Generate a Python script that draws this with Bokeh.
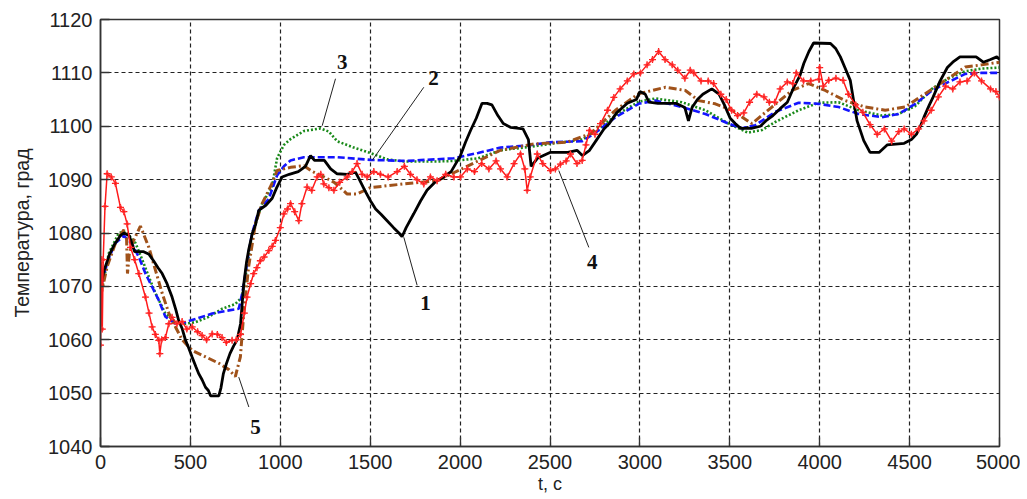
from bokeh.plotting import figure
from bokeh.models import FixedTicker, Range1d
from bokeh.core.properties import value
from bokeh.embed import file_html
from bokeh.resources import INLINE

# ---- data (t in s, temperature in grad) ----
x_ticks = [0, 500, 1000, 1500, 2000, 2500, 3000, 3500, 4000, 4500, 5000]
y_ticks = [1040, 1050, 1060, 1070, 1080, 1090, 1100, 1110, 1120]

# curve 1 (black, solid)
t1 = [0, 20, 50, 80, 110, 130, 160, 190, 240, 270, 295, 320, 343, 370, 398, 420, 435, 455, 472, 490,
      510, 530, 547, 565, 584, 600, 612, 658, 670, 683, 700, 720, 740, 760, 779, 797, 812, 825, 845, 862,
      880, 890, 920, 955, 980, 1010, 1050, 1100, 1140, 1168, 1190, 1245, 1280, 1316, 1372, 1418, 1440, 1470, 1502, 1530,
      1560, 1594, 1630, 1660, 1677, 1700, 1742, 1780, 1816, 1860, 1909, 1950, 2002, 2030, 2058, 2090, 2122, 2150, 2177, 2210,
      2240, 2280, 2350, 2380, 2395, 2430, 2500, 2600, 2650, 2680, 2720, 2760, 2800, 2830, 2870, 2930, 2980, 3000, 3030, 3050,
      3100, 3200, 3250, 3270, 3290, 3320, 3350, 3400, 3440, 3470, 3502, 3530, 3560, 3620, 3670, 3700, 3740, 3780, 3820, 3856,
      3890, 3912, 3940, 3966, 4060, 4090, 4115, 4140, 4170, 4190, 4208, 4245, 4280, 4330, 4375, 4470, 4510, 4540, 4560, 4580,
      4610, 4630, 4670, 4710, 4740, 4780, 4870, 4910, 4950, 4985, 5000]
T1 = [1070, 1073, 1076, 1078, 1079.5, 1080, 1079.5, 1076.5, 1076.5, 1076, 1074.8, 1073.5, 1072.4, 1070.5, 1068, 1065.5, 1063.6, 1062, 1060, 1058.5,
      1056.7, 1055, 1053.6, 1052.5, 1051.1, 1050.5, 1049.5, 1049.5, 1051, 1053.6, 1055.5, 1057.4, 1058.8, 1060, 1063, 1070.5, 1074.5, 1077, 1080, 1081.5,
      1084.2, 1084.5, 1085.2, 1086.5, 1088.5, 1090.5, 1091, 1091.5, 1092.5, 1094.5, 1093.6, 1093.6, 1092, 1091.1, 1091, 1091.4, 1090, 1088, 1086, 1084.5,
      1083.5, 1082.3, 1081, 1080, 1079.3, 1081, 1083.6, 1086, 1088, 1089.5, 1090.5, 1091.5, 1094.5, 1097, 1099.2, 1101.5, 1104.3, 1104.3, 1104, 1102,
      1100.5, 1099.8, 1099.5, 1097.5, 1092.5, 1094, 1095.1, 1095.1, 1095.5, 1094.5, 1095.5, 1097.5, 1099.5, 1100.5, 1102.5, 1104.3, 1105, 1106.5, 1106, 1104.5,
      1104.3, 1104.3, 1103.5, 1101, 1103.5, 1105, 1106, 1107, 1106, 1104, 1101.5, 1100.5, 1099.6, 1099.6, 1100, 1101, 1102, 1103.3, 1104.5, 1107.3,
      1109.5, 1111.8, 1114, 1115.6, 1115.5, 1114.5, 1113, 1111, 1108.6, 1104.5, 1101, 1097.3, 1095.1, 1095.1, 1096.5, 1096.8, 1097.5, 1098.6, 1100, 1101.7,
      1104, 1105.4, 1108.5, 1111, 1112, 1113, 1113, 1112, 1112.5, 1113, 1112.5]

# curve 2 (blue, dashed)
t2 = [0, 25, 50, 83, 130, 176, 213, 250, 287, 324, 361, 417, 472, 528, 621, 714, 769, 790, 806, 825,
      843, 880, 936, 982, 1020, 1057, 1131, 1316, 1501, 1700, 1965, 2100, 2225, 2400, 2500, 2680, 2770, 2864, 2993, 3086,
      3234, 3364, 3493, 3568, 3642, 3753, 3883, 3994, 4105, 4216, 4346, 4439, 4532, 4624, 4717, 4810, 4900, 5000]
T2 = [1069, 1073, 1075.6, 1078.1, 1079.5, 1077.9, 1075.5, 1072.4, 1069.9, 1067.4, 1064.3, 1063, 1063.3, 1063.9, 1064.9, 1065.5, 1065.8, 1069, 1072.4, 1076.5,
      1079.9, 1084.2, 1086.4, 1090.8, 1092.5, 1093.6, 1094.2, 1094.2, 1093.7, 1093.5, 1094, 1095, 1096, 1096.5, 1097, 1097.2, 1099.2, 1101.7, 1104.2, 1104.8,
      1103.6, 1102.3, 1100.5, 1099.6, 1100.2, 1102.7, 1104.4, 1104.2, 1103.6, 1102.3, 1101.7, 1102.3, 1104.2, 1106.7, 1108.3, 1109.8, 1110, 1110]

# curve 3 (green, dotted)
t3 = [0, 46, 102, 139, 195, 232, 269, 306, 361, 417, 472, 528, 602, 676, 750, 787, 815, 843, 899, 954,
      982, 1020, 1057, 1131, 1224, 1270, 1316, 1409, 1501, 1594, 1687, 1872, 1965, 2100, 2225, 2400, 2500, 2680, 2770, 2864,
      2993, 3086, 3234, 3364, 3493, 3600, 3680, 3753, 3883, 3994, 4105, 4216, 4346, 4439, 4532, 4624, 4717, 4810, 4900, 5000]
T3 = [1068, 1076.2, 1080, 1080.3, 1078.1, 1075, 1071.8, 1068.7, 1064.9, 1063.3, 1063, 1063.3, 1064.3, 1065.8, 1066.7, 1068, 1073.6, 1079.9, 1085.5, 1088.7,
      1094, 1096.5, 1097.6, 1099.1, 1099.6, 1099, 1097.2, 1096, 1095, 1093.8, 1093.4, 1093.4, 1093.5, 1094, 1095.5, 1096.2, 1096.7, 1097.5, 1099.5, 1102,
      1104.6, 1105.2, 1104.5, 1103, 1100.5, 1098.8, 1099.3, 1100.8, 1103, 1104.4, 1104.5, 1103, 1102, 1102.3, 1103.8, 1107, 1109, 1110.3, 1110.8, 1111]

# curve 4 (red, with markers)
t4 = [0, 5, 10, 15, 25, 37, 60, 83, 111, 130, 148, 167, 190, 213, 250, 270, 287, 305, 324, 330,
      340, 361, 380, 398, 425, 454, 480, 510, 540, 565, 590, 621, 650, 676, 700, 732, 755, 779, 800, 815,
      835, 852, 870, 889, 910, 936, 955, 973, 1000, 1020, 1040, 1057, 1080, 1103, 1120, 1149, 1175, 1205, 1225, 1242,
      1270, 1298, 1330, 1372, 1400, 1427, 1455, 1483, 1520, 1557, 1600, 1650, 1690, 1724, 1760, 1798, 1835, 1872, 1920, 1965,
      2002, 2040, 2080, 2120, 2160, 2200, 2225, 2262, 2300, 2336, 2360, 2373, 2390, 2429, 2460, 2503, 2530, 2558, 2590, 2614,
      2650, 2679, 2700, 2720, 2750, 2781, 2820, 2855, 2890, 2930, 2966, 3003, 3040, 3070, 3104, 3140, 3180, 3210, 3250, 3280,
      3300, 3340, 3380, 3410, 3450, 3480, 3510, 3543, 3578, 3610, 3650, 3690, 3720, 3750, 3780, 3820, 3850, 3870, 3910, 3950,
      3995, 4000, 4020, 4050, 4090, 4130, 4160, 4200, 4240, 4280, 4320, 4360, 4400, 4440, 4470, 4510, 4550, 4580, 4620, 4660,
      4700, 4740, 4780, 4820, 4860, 4900, 4950, 4980, 5000]
T4 = [1059, 1075, 1062, 1075, 1085, 1091.1, 1090.5, 1089.3, 1084.8, 1084, 1081.7, 1077.3, 1075, 1072.4, 1068, 1065, 1062.4, 1061, 1059.9, 1057.4,
      1060, 1060.4, 1063, 1064.2, 1063, 1063.4, 1062, 1062.4, 1061.5, 1060.8, 1060, 1061.1, 1061, 1060.4, 1059.5, 1059.9, 1060, 1061, 1065, 1068,
      1070.5, 1072.4, 1073.5, 1074.8, 1075.5, 1076.7, 1077.5, 1078.6, 1081, 1083.6, 1084.5, 1085.5, 1084, 1082.3, 1085.5, 1088.6, 1088, 1090.5, 1091, 1089.2,
      1088.5, 1088, 1089.5, 1090.5, 1091.5, 1093, 1091, 1090.5, 1091.5, 1091, 1090.5, 1091.5, 1092.5, 1091, 1090, 1089.2, 1090.5, 1089.8, 1091, 1090.5,
      1090.5, 1092, 1091.5, 1093, 1092, 1093.5, 1092, 1090.5, 1093, 1094.8, 1092, 1088, 1090.5, 1094.8, 1093, 1091.7, 1092, 1092.9, 1093.5, 1094.8,
      1093, 1093.6, 1096.5, 1099.2, 1098.5, 1100.5, 1103, 1105.4, 1107, 1108.5, 1109.8, 1110, 1111.5, 1112.5, 1114, 1112.5, 1111.5, 1110.5, 1109, 1110.5,
      1110, 1108.5, 1108.5, 1108, 1106, 1105, 1103, 1102, 1102.5, 1104.5, 1106, 1105.5, 1104.5, 1104.5, 1107, 1108.3, 1108, 1110, 1108.5, 1108.5,
      1108.8, 1111, 1107.5, 1108.6, 1109, 1108.6, 1106, 1104, 1102.6, 1100.3, 1098.5, 1099.5, 1097.2, 1099, 1099.5, 1098.5, 1099.5, 1101, 1103, 1105.5,
      1107.5, 1107, 1108.3, 1108.5, 1110, 1108.5, 1107, 1106.5, 1105.5]

# curve 5 (brown, dash-dot)
t5 = [0, 37, 83, 130, 145, 150, 160, 176, 222, 269, 306, 343, 380, 417, 454, 510, 584, 658, 714, 750,
      778, 797, 824, 862, 899, 950, 982, 1057, 1131, 1180, 1242, 1300, 1372, 1427, 1501, 1687, 1872, 2002, 2100, 2225,
      2410, 2595, 2725, 2864, 2993, 3142, 3253, 3327, 3419, 3512, 3623, 3734, 3846, 3938, 4031, 4142, 4253, 4364, 4476, 4587,
      4698, 4810, 4900, 5000]
T5 = [1068, 1073.7, 1078.1, 1080.6, 1079, 1072.4, 1076, 1078, 1081.3, 1077.3, 1073, 1068.7, 1065, 1062.4, 1060, 1058, 1056.8, 1055.6, 1054.4, 1053.1,
      1056.8, 1065, 1073.7, 1081.8, 1085.5, 1089, 1091.7, 1092.3, 1092.6, 1091.5, 1090.5, 1089.5, 1087.3, 1087.3, 1088.5, 1089.2, 1089.8, 1091.9, 1093.5, 1095.5,
      1096.7, 1097, 1098.6, 1103, 1106.1, 1107.3, 1106.7, 1104.8, 1104.2, 1103, 1100.5, 1103.6, 1106.7, 1108, 1106.7, 1104.8, 1103.6, 1103, 1103.6, 1106.1,
      1108.6, 1111.1, 1111.5, 1112]

# curve number labels and their leader lines
lbl_text = ["1", "2", "3", "4", "5"]
lbl_t = [1808, 1852, 1344, 2735, 862]
lbl_T = [1066.8, 1109.1, 1112.0, 1074.5, 1043.6]
lead_t0 = [1687, 1511, 1233, 2549, 769]
lead_T0 = [1079.2, 1093.6, 1100.1, 1091.7, 1053.0]
lead_t1 = [1761, 1798, 1307, 2716, 825]
lead_T1 = [1070.2, 1107.3, 1108.9, 1077.3, 1047.4]

# ---- figure ----
p = figure(width=1020, height=498, output_backend="svg", toolbar_location=None,
           x_range=Range1d(0, 5000), y_range=Range1d(1040, 1120),
           min_border_left=100, min_border_right=21, min_border_top=19, min_border_bottom=52)
p.background_fill_color = "white"
p.border_fill_color = "white"
p.outline_line_color = "#333333"
p.outline_line_width = 1.5

for ax in (p.xaxis[0], p.yaxis[0]):
    ax.axis_line_color = "#333333"
    ax.axis_line_width = 1.5
    ax.major_tick_in = 9
    ax.major_tick_out = 0
    ax.major_tick_line_color = "#333333"
    ax.major_tick_line_width = 1.3
    ax.minor_tick_line_color = None
    ax.major_label_text_font = "Liberation Sans"
    ax.major_label_text_font_size = "20px"
    ax.major_label_text_color = "#222222"
    ax.major_label_standoff = 8
    ax.axis_label_text_font = "Liberation Sans"
    ax.axis_label_text_font_style = "normal"
    ax.axis_label_text_color = "#222222"

p.xaxis.ticker = FixedTicker(ticks=x_ticks)
p.yaxis.ticker = FixedTicker(ticks=y_ticks)
p.xaxis.axis_label = "t, c"
p.yaxis.axis_label = "Температура, град"
p.xaxis.axis_label_standoff = 2
p.xaxis.axis_label_text_font_size = "18px"
p.yaxis.axis_label_text_font_size = "19.5px"
p.yaxis.axis_label_standoff = 12

for g in (p.xgrid[0], p.ygrid[0]):
    g.grid_line_color = "#222222"
    g.grid_line_dash = "4 3"
    g.grid_line_width = 1.2

# curves
p.line(t3, T3, line_color="#1a8a1a", line_width=2.6, line_dash="2 2")
p.line(t2, T2, line_color="#1414ff", line_width=2.6, line_dash="7 3")
p.line(t5, T5, line_color="#a0521a", line_width=3, line_dash="8 3 2 3")
p.line(t1, T1, line_color="black", line_width=2.8)
p.line(t4, T4, line_color="#ff1a1a", line_width=1.5)
p.scatter(t4, T4, marker="cross", size=7, line_color="#ff1a1a", line_width=1.3)
p.scatter(t4, T4, marker="diamond", size=5, line_color="#ff4040", fill_color=None, line_width=1)

# leaders and labels
p.segment(lead_t0, lead_T0, lead_t1, lead_T1, line_color="#222222", line_width=1)
p.text(lbl_t, lbl_T, text=lbl_text, text_font=value("Liberation Serif"), text_font_style="bold",
       text_font_size="21px", text_align="center", text_baseline="middle", text_color="#111111")

open("out.html", "w").write(file_html(p, INLINE))
